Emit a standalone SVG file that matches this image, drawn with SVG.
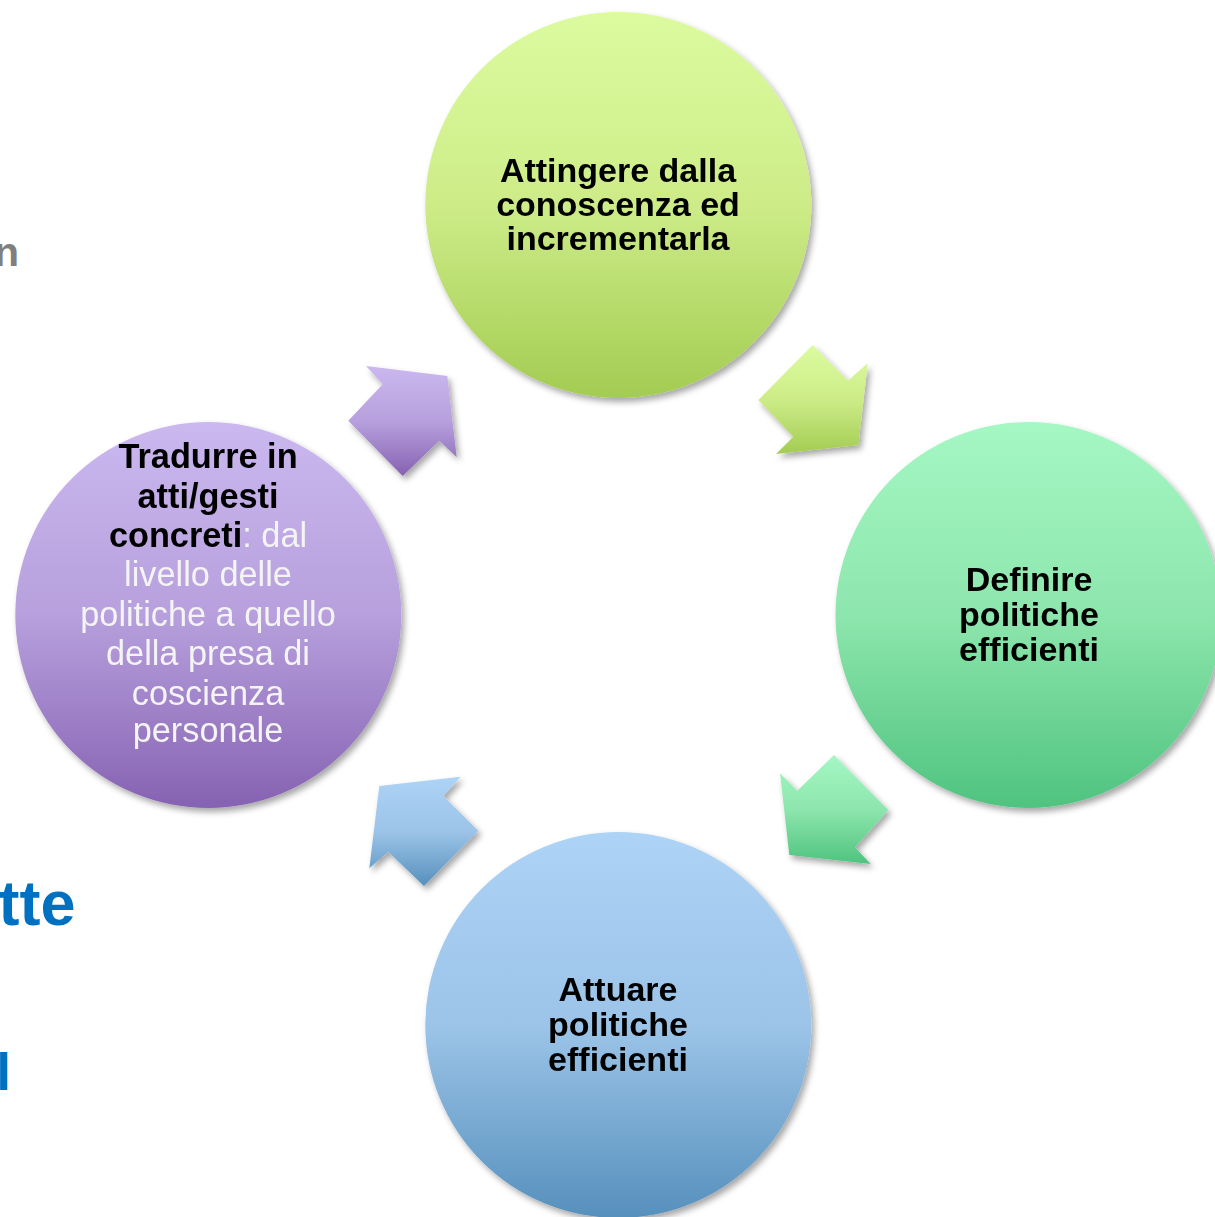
<svg xmlns="http://www.w3.org/2000/svg" width="1215" height="1217" viewBox="0 0 1215 1217">
  <style>
    .lbl { font-family: "Liberation Sans", Arial, sans-serif; font-size: 34px; font-weight: bold; fill: #000; text-anchor: middle; }
    .lbl-p { font-family: "Liberation Sans", Arial, sans-serif; font-size: 34.3px; text-anchor: middle; }
    .b { font-weight: bold; fill: #000; }
    .w { font-weight: normal; fill: #f4f4f4; }
    .side { font-family: "Liberation Sans", Arial, sans-serif; font-weight: bold; }
  </style>
  <defs>
    <linearGradient id="gLime" x1="0" y1="0" x2="0" y2="1">
      <stop offset="0" stop-color="#dcfb9f"/>
      <stop offset="0.5" stop-color="#cdec88"/>
      <stop offset="1" stop-color="#a3cc52"/>
    </linearGradient>
    <linearGradient id="gMint" x1="0" y1="0" x2="0" y2="1">
      <stop offset="0" stop-color="#a5f7c3"/>
      <stop offset="0.5" stop-color="#8de6ad"/>
      <stop offset="1" stop-color="#4fc37f"/>
    </linearGradient>
    <linearGradient id="gSky" x1="0" y1="0" x2="0" y2="1">
      <stop offset="0" stop-color="#add3f6"/>
      <stop offset="0.5" stop-color="#9cc4e8"/>
      <stop offset="1" stop-color="#5690bc"/>
    </linearGradient>
    <linearGradient id="gLilac" x1="0" y1="0" x2="0" y2="1">
      <stop offset="0" stop-color="#cbb8ef"/>
      <stop offset="0.5" stop-color="#b7a0dd"/>
      <stop offset="1" stop-color="#8662b2"/>
    </linearGradient>
    <filter id="shadow" x="-20%" y="-20%" width="140%" height="140%">
      <feDropShadow dx="3" dy="4" stdDeviation="3" flood-color="#000" flood-opacity="0.35"/>
    </filter>
  </defs>

  <rect width="1215" height="1217" fill="#ffffff"/>

  <!-- slide text clipped at the left edge -->
  <text class="side" x="-6" y="266" font-size="41" fill="#7f7f7f">n</text>
  <text class="side" x="-1.5" y="925" font-size="63" fill="#0070c0">tte</text>
  <text class="side" x="-3.5" y="1090" font-size="52" fill="#0070c0">l</text>

  <!-- cycle arrows -->
  <g id="connectors" filter="url(#shadow)">
    <polygon id="arrow-1-2" fill="url(#gLime)" points="812.7,345 848,380.7 867.7,363.3 858.3,445 776,454 793.3,436.7 758.3,400"/>
    <polygon id="arrow-2-3" fill="url(#gMint)" points="834,755 888.3,810 855,847.3 870.7,864 789.3,855 780,773.3 797.3,790.7"/>
    <polygon id="arrow-3-4" fill="url(#gSky)" points="460.7,776.7 379.3,786 369.3,868.3 388.3,851.7 424,886 478.3,830.7 443.3,796"/>
    <polygon id="arrow-4-1" fill="url(#gLilac)" points="366,366 447.3,376 456.7,457.3 439.3,440.7 402.7,476 348.3,420.7 382.7,384.3"/>
  </g>

  <g id="node-attingere" filter="url(#shadow)">
    <circle cx="618.3" cy="205" r="193" fill="url(#gLime)"/>
    <text class="lbl" x="618" y="182">Attingere dalla</text>
    <text class="lbl" x="618" y="216">conoscenza ed</text>
    <text class="lbl" x="618" y="250">incrementarla</text>
  </g>

  <g id="node-definire" filter="url(#shadow)">
    <circle cx="1028.5" cy="615" r="193" fill="url(#gMint)"/>
    <text class="lbl" x="1029" y="591">Definire</text>
    <text class="lbl" x="1029" y="626">politiche</text>
    <text class="lbl" x="1029" y="661">efficienti</text>
  </g>

  <g id="node-attuare" filter="url(#shadow)">
    <circle cx="618.3" cy="1025" r="193" fill="url(#gSky)"/>
    <text class="lbl" x="618" y="1001">Attuare</text>
    <text class="lbl" x="618" y="1036">politiche</text>
    <text class="lbl" x="618" y="1071">efficienti</text>
  </g>

  <g id="node-tradurre" filter="url(#shadow)">
    <circle cx="208.3" cy="615" r="193" fill="url(#gLilac)"/>
    <text class="lbl-p" x="208" y="468"><tspan class="b">Tradurre in</tspan></text>
    <text class="lbl-p" x="208" y="508"><tspan class="b">atti/gesti</tspan></text>
    <text class="lbl-p" x="208" y="547"><tspan class="b">concreti</tspan><tspan class="w">: dal</tspan></text>
    <text class="lbl-p w" x="208" y="586">livello delle</text>
    <text class="lbl-p w" x="208" y="626">politiche a quello</text>
    <text class="lbl-p w" x="208" y="665">della presa di</text>
    <text class="lbl-p w" x="208" y="705">coscienza</text>
    <text class="lbl-p w" x="208" y="742">personale</text>
  </g>
</svg>
